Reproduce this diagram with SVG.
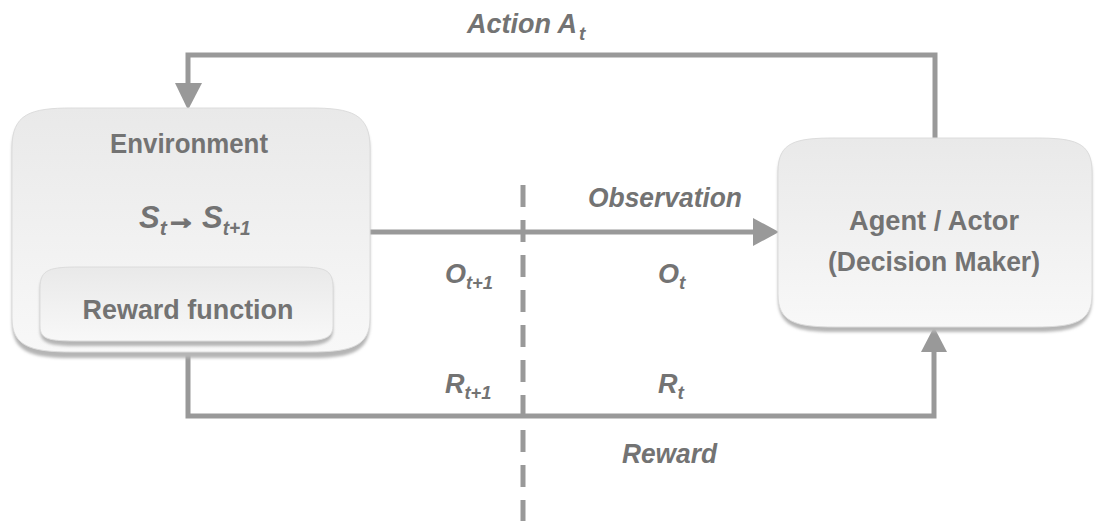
<svg xmlns="http://www.w3.org/2000/svg" width="1100" height="521" viewBox="0 0 1100 521">
<style>
.lbl{font-family:"Liberation Sans",Arial,sans-serif;font-weight:bold;fill:#737373}
.it{font-style:italic}
.line{fill:none;stroke:#999;stroke-width:5}
.box{fill:url(#g);stroke:#dcdcdc;stroke-width:1}
.shadow{fill:#b5b5b5;filter:url(#blur)}
</style>
<defs>
<linearGradient id="g" x1="0" y1="0" x2="0" y2="1">
<stop offset="0" stop-color="#e9e9e9"/>
<stop offset="0.6" stop-color="#f2f2f2"/>
<stop offset="1" stop-color="#f8f8f8"/>
</linearGradient>
<filter id="blur" x="-10%" y="-10%" width="120%" height="130%"><feGaussianBlur stdDeviation="1.5"/></filter>
</defs>
<rect width="1100" height="521" fill="#fff"/>

<g id="connectors">
<line x1="523" y1="185" x2="523" y2="521" stroke="#999" stroke-width="5" stroke-dasharray="22 13"/>
<polyline class="line" points="935,138 935,55 188,55 188,86"/>
<polygon points="175,83 202,83 188,110" fill="#999"/>
<line class="line" x1="368" y1="232" x2="755" y2="232"/>
<polygon points="753,218 753,246 779,232" fill="#999"/>
<polyline class="line" points="188,343 188,416 934,416 934,350"/>
<polygon points="921,352 947,352 934,327" fill="#999"/>
</g>

<g id="environment">
<path class="shadow" d="M12,152 C12,118 30,112 72,112 L310,112 C352,112 370,118 370,152 L370,322 C370,352 352,358 310,358 L72,358 C30,358 12,352 12,322 Z"/>
<path class="box" d="M12,148 C12,114 30,108 72,108 L310,108 C352,108 370,114 370,148 L370,318 C370,346 352,352 310,352 L72,352 C30,352 12,346 12,318 Z"/>
<text class="lbl" x="189" y="153" font-size="28" text-anchor="middle" textLength="158" lengthAdjust="spacingAndGlyphs">Environment</text>
<text class="lbl it" x="139" y="228" font-size="31">S<tspan font-size="21" dy="7">t</tspan></text>
<text class="lbl" x="166" y="228" font-size="30" stroke="#737373" stroke-width="2.2" textLength="30" lengthAdjust="spacingAndGlyphs">→</text>
<text class="lbl it" x="202" y="228" font-size="31">S<tspan font-size="21" dy="7" textLength="28" lengthAdjust="spacingAndGlyphs">t+1</tspan></text>
</g>

<g id="reward-function">
<path class="shadow" d="M40,292 C40,272 50,270 80,270 L295,270 C325,270 333,272 333,292 L333,330 C333,344 320,346 295,346 L80,346 C50,346 40,344 40,330 Z"/>
<path class="box" d="M40,288 C40,269 50,267 80,267 L295,267 C325,267 333,269 333,288 L333,326 C333,340 320,341 295,341 L80,341 C50,341 40,340 40,326 Z"/>
<text class="lbl" x="188" y="319" font-size="28" text-anchor="middle" textLength="211" lengthAdjust="spacingAndGlyphs">Reward function</text>
</g>

<g id="agent">
<path class="shadow" d="M778,176 C778,146 795,142 835,142 L1035,142 C1075,142 1092,146 1092,176 L1092,298 C1092,326 1075,332 1035,332 L835,332 C795,332 778,326 778,298 Z"/>
<path class="box" d="M778,172 C778,142 795,138 835,138 L1035,138 C1075,138 1092,142 1092,172 L1092,294 C1092,322 1075,327 1035,327 L835,327 C795,327 778,322 778,294 Z"/>
<text class="lbl" x="934" y="230" font-size="28" text-anchor="middle" textLength="170" lengthAdjust="spacingAndGlyphs">Agent / Actor</text>
<text class="lbl" x="934" y="271" font-size="28" text-anchor="middle" textLength="212" lengthAdjust="spacingAndGlyphs">(Decision Maker)</text>
</g>

<g id="labels">
<text class="lbl it" x="467" y="33" font-size="27">Action A<tspan font-size="19" dx="2" dy="7">t</tspan></text>
<text class="lbl it" x="588" y="207" font-size="28" textLength="154" lengthAdjust="spacingAndGlyphs">Observation</text>
<text class="lbl it" x="445" y="283" font-size="27">O<tspan font-size="19" dy="6" textLength="27" lengthAdjust="spacingAndGlyphs">t+1</tspan></text>
<text class="lbl it" x="658" y="283" font-size="27">O<tspan font-size="19" dy="6">t</tspan></text>
<text class="lbl it" x="445" y="393" font-size="27">R<tspan font-size="19" dy="6" textLength="27" lengthAdjust="spacingAndGlyphs">t+1</tspan></text>
<text class="lbl it" x="658" y="393" font-size="27">R<tspan font-size="19" dy="6">t</tspan></text>
<text class="lbl it" x="622" y="463" font-size="28" textLength="95" lengthAdjust="spacingAndGlyphs">Reward</text>
</g>
</svg>
